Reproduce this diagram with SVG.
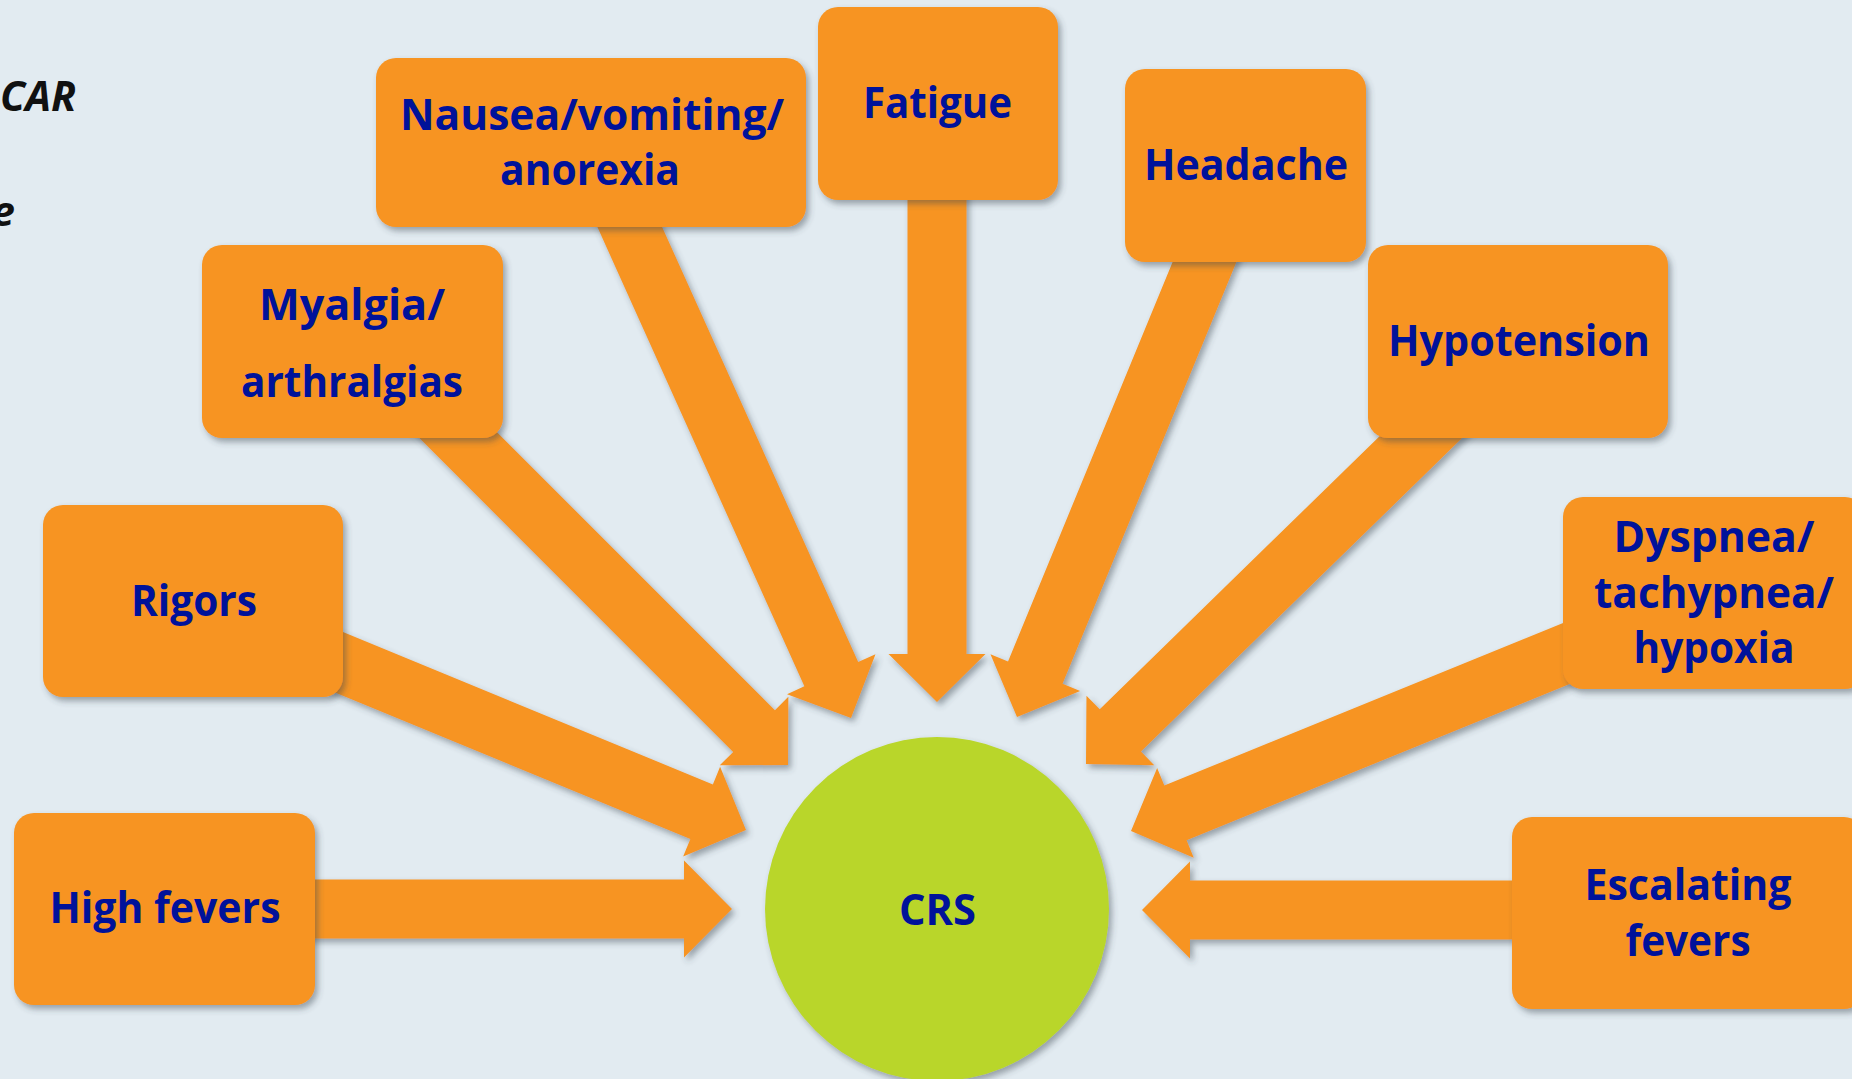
<svg xmlns="http://www.w3.org/2000/svg" width="1852" height="1079" viewBox="0 0 1852 1079">
<defs>
<filter id="sh" x="-10%" y="-10%" width="130%" height="130%">
<feDropShadow dx="3" dy="4" stdDeviation="3" flood-color="#3a4650" flood-opacity="0.45"/>
</filter>
<style>
.box{fill:#F79420;filter:url(#sh);}
.arr{fill:#F79420;filter:url(#sh);}
.lbl{font-family:"Open Sans",Lato,"Liberation Sans",sans-serif;font-weight:bold;font-size:43px;fill:#00129A;text-anchor:middle;}
.side{font-family:"Open Sans",Lato,"Liberation Sans",sans-serif;font-weight:bold;font-style:italic;font-size:42px;fill:#111111;text-anchor:end;}
</style>
</defs>
<rect x="0" y="0" width="1852" height="1079" fill="#E2EBF1"/>
<text class="side" x="76" y="111" textLength="76" lengthAdjust="spacingAndGlyphs">CAR</text>
<text class="side" x="15" y="226">e</text>
<g id="connectors">
<polygon class="arr" points="164,879.5 684,879.5 684,860.5 732,909 684,957.5 684,938.5 164,938.5"/>
<polygon class="arr" points="239.76,653.28 690.38,838.99 683.14,856.55 746,830 720.10,766.87 712.86,784.43 262.24,598.72"/>
<polygon class="arr" points="379.14,397.86 733.20,751.92 719.77,765.35 788,765 788.35,696.77 774.92,710.20 420.86,356.14"/>
<polygon class="arr" points="578.10,184.12 804.38,686.36 787.06,694.16 851,718 875.50,654.32 858.18,662.12 631.90,159.88"/>
<polygon class="arr" points="907.5,150 907.5,654 888.5,654 937,702 985.5,654 966.5,654 966.5,150"/>
<polygon class="arr" points="1200.73,193.76 1008.02,661.38 990.45,654.14 1017,717 1080.13,691.10 1062.56,683.86 1255.27,216.24"/>
<polygon class="arr" points="1443.39,373.89 1099.74,709.36 1086.47,695.76 1086,764 1154.23,765.18 1140.96,751.58 1484.61,416.11"/>
<polygon class="arr" points="1607.86,604.68 1164.31,785.56 1157.14,767.97 1131,831 1193.76,857.79 1186.59,840.20 1630.14,659.32"/>
<polygon class="arr" points="1600,880.5 1190,880.5 1190,861.5 1142,910 1190,958.5 1190,939.5 1600,939.5"/>
</g>
<g id="node-crs">
<circle cx="937" cy="909" r="172" fill="#B9D62A" filter="url(#sh)"/>
<text class="lbl" x="937.5" y="925" textLength="77" lengthAdjust="spacingAndGlyphs">CRS</text>
</g>
<g id="node-high-fevers">
<rect class="box" x="14" y="813" width="301" height="192" rx="20"/>
<text class="lbl" x="165" y="923" textLength="231" lengthAdjust="spacingAndGlyphs">High fevers</text>
</g>
<g id="node-rigors">
<rect class="box" x="43" y="505" width="300" height="192" rx="20"/>
<text class="lbl" x="194" y="616" textLength="126" lengthAdjust="spacingAndGlyphs">Rigors</text>
</g>
<g id="node-myalgia">
<rect class="box" x="202" y="245" width="301" height="193" rx="20"/>
<text class="lbl" x="352" y="320" textLength="186" lengthAdjust="spacingAndGlyphs">Myalgia/</text>
<text class="lbl" x="352" y="397" textLength="222" lengthAdjust="spacingAndGlyphs">arthralgias</text>
</g>
<g id="node-nausea">
<rect class="box" x="376" y="58" width="430" height="169" rx="20"/>
<text class="lbl" x="592" y="130" textLength="384" lengthAdjust="spacingAndGlyphs">Nausea/vomiting/</text>
<text class="lbl" x="590" y="185" textLength="180" lengthAdjust="spacingAndGlyphs">anorexia</text>
</g>
<g id="node-fatigue">
<rect class="box" x="818" y="7" width="240" height="193" rx="20"/>
<text class="lbl" x="937.5" y="118" textLength="149" lengthAdjust="spacingAndGlyphs">Fatigue</text>
</g>
<g id="node-headache">
<rect class="box" x="1125" y="69" width="241" height="193" rx="20"/>
<text class="lbl" x="1246" y="180" textLength="204" lengthAdjust="spacingAndGlyphs">Headache</text>
</g>
<g id="node-hypotension">
<rect class="box" x="1368" y="245" width="300" height="193" rx="20"/>
<text class="lbl" x="1519" y="356" textLength="262" lengthAdjust="spacingAndGlyphs">Hypotension</text>
</g>
<g id="node-dyspnea">
<rect class="box" x="1563" y="497" width="302" height="192" rx="20"/>
<text class="lbl" x="1714" y="552" textLength="201" lengthAdjust="spacingAndGlyphs">Dyspnea/</text>
<text class="lbl" x="1714" y="608" textLength="240" lengthAdjust="spacingAndGlyphs">tachypnea/</text>
<text class="lbl" x="1714" y="663" textLength="161" lengthAdjust="spacingAndGlyphs">hypoxia</text>
</g>
<g id="node-escalating-fevers">
<rect class="box" x="1512" y="817" width="352" height="192" rx="20"/>
<text class="lbl" x="1688" y="900" textLength="207" lengthAdjust="spacingAndGlyphs">Escalating</text>
<text class="lbl" x="1688" y="956" textLength="125" lengthAdjust="spacingAndGlyphs">fevers</text>
</g>
</svg>
